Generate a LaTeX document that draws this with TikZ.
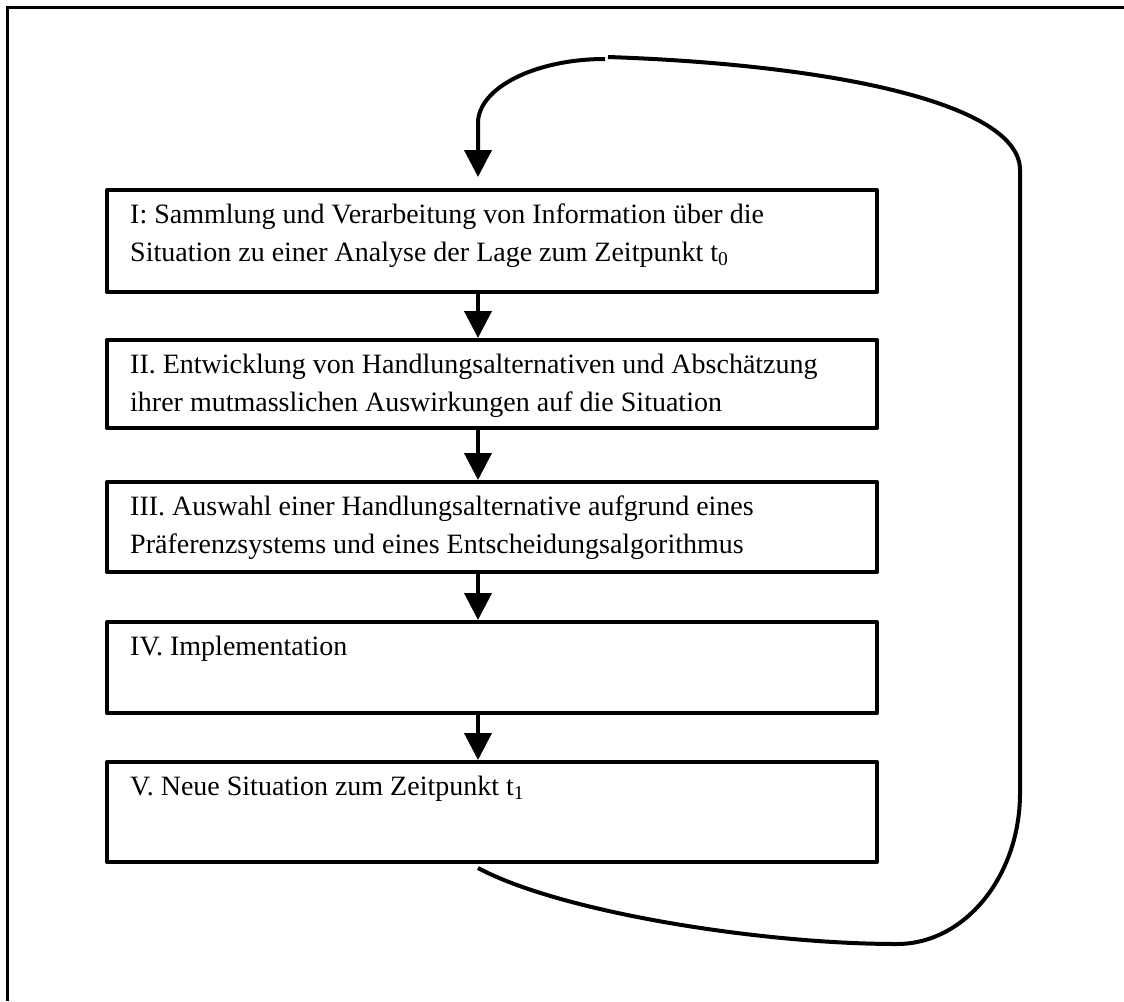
\documentclass[tikz,border=0pt]{standalone}
\usepackage{fontspec}
\setmainfont{Liberation Serif}
\usetikzlibrary{arrows.meta}
\tikzset{
  stepbox/.style={draw=black, line width=4pt, rectangle, minimum width=770pt, inner sep=0pt, line join=round},
  steptext/.style={anchor=base west, inner sep=0pt, font=\fontsize{28}{38}\selectfont},
  flow/.style={draw=black, line width=4pt, -{Triangle[length=27pt,width=27pt]}},
  loopline/.style={draw=black, line width=4pt},
  frameline/.style={draw=black, line width=3pt}
}
\begin{document}
\begin{tikzpicture}[x=1pt,y=-1pt]
\useasboundingbox (0,0) rectangle (1124,1001);
% outer frame (left and top)
\coordinate (fb) at (7,1001);
\coordinate (fc) at (7,7);
\coordinate (fr) at (1124,7);
\draw[frameline] (fb) -- (fc) -- (fr);
% boxes
\node[stepbox, minimum height=102pt] (b1) at (492,241) {};
\node[stepbox, minimum height=88pt] (b2) at (492,384) {};
\node[stepbox, minimum height=90pt] (b3) at (492,527) {};
\node[stepbox, minimum height=91pt] (b4) at (492,667.5) {};
\node[stepbox, minimum height=100pt] (b5) at (492,812) {};
% texts
\node[steptext] (t1) at (130,223) {\parbox[t]{740pt}{\raggedright I: Sammlung und Verarbeitung von Information über die\\Situation zu einer Analyse der Lage zum Zeitpunkt t\textsubscript{0}}};
\node[steptext] (t2) at (130,373) {\parbox[t]{740pt}{\raggedright II. Entwicklung von Handlungsalternativen und Abschätzung\\ihrer mutmasslichen Auswirkungen auf die Situation}};
\node[steptext] (t3) at (130,515) {\parbox[t]{740pt}{\raggedright III. Auswahl einer Handlungsalternative aufgrund eines\\Präferenzsystems und eines Entscheidungsalgorithmus}};
\node[steptext] (t4) at (130,655) {\parbox[t]{740pt}{\raggedright IV. Implementation}};
\node[steptext] (t5) at (130,795) {\parbox[t]{740pt}{\raggedright V. Neue Situation zum Zeitpunkt t\textsubscript{1}}};
% arrows between boxes
\draw[flow] ([xshift=-14pt]b1.south) -- ([xshift=-14pt]b2.north);
\draw[flow] ([xshift=-14pt]b2.south) -- ([xshift=-14pt]b3.north);
\draw[flow] ([xshift=-14pt]b3.south) -- ([xshift=-14pt]b4.north);
\draw[flow] ([xshift=-14pt]b4.south) -- ([xshift=-14pt]b5.north);
% feedback loop
\coordinate (la) at (605,59);
\coordinate (lb) at (478,123);
\coordinate (lt) at (478,177);
\coordinate (ra) at (608,57);
\coordinate (rb) at (1020,170);
\coordinate (rc) at (1020,793);
\coordinate (rd) at (897,944);
\coordinate (re) at (478,868);
\draw[flow] (la) .. controls (535,59) and (478,88) .. (lb) -- (lt);
\draw[loopline] (ra) .. controls (840,65) and (1020,105) .. (rb) -- (rc)
  .. controls (1020,876) and (965,944) .. (rd)
  .. controls (760,944) and (560,912) .. (re);
\end{tikzpicture}
\end{document}
